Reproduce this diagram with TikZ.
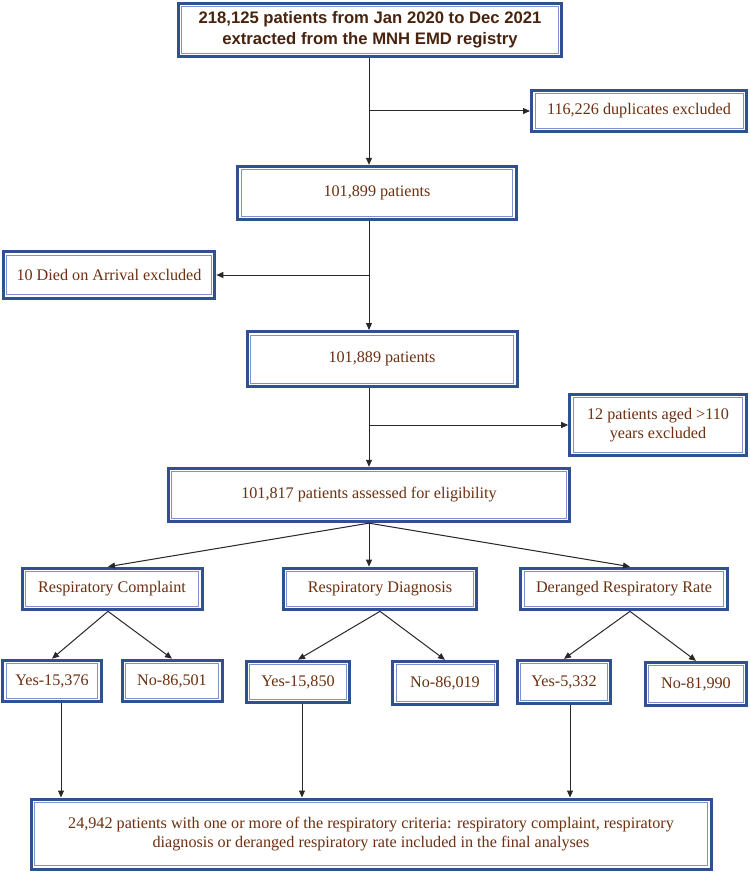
\documentclass[tikz,border=0pt]{standalone}
\usepackage{fontspec}
\setmainfont{Liberation Serif}
\newfontfamily\headfont{Liberation Sans}
\usepackage{tikz}
\usetikzlibrary{arrows.meta,positioning}
\definecolor{boxblue}{RGB}{47,80,145}
\definecolor{lineblue}{RGB}{125,145,205}
\definecolor{txtbrown}{RGB}{108,48,16}
\definecolor{headbrown}{RGB}{72,36,14}
\definecolor{arrgray}{RGB}{40,40,40}

\begin{document}
\begin{tikzpicture}[x=0.6pt, y=-0.6pt,
  box/.style={draw=boxblue, line width=1.8pt, fill=white, text=txtbrown,
              align=center, inner sep=2pt, font=\fontsize{9.7}{11.6}\selectfont,
              path picture={\draw[lineblue, line width=0.55pt]
                ([shift={(2.1pt,-2.1pt)}]path picture bounding box.north west) rectangle
                ([shift={(-2.1pt,2.1pt)}]path picture bounding box.south east);}},
  arr/.style={-{Triangle[length=4.2pt,width=3.6pt]}, line width=0.6pt, arrgray},
]
\useasboundingbox (0,0) rectangle (750,872);
\coordinate (spine) at (369,0);
% main column
\node[box, minimum width=230pt, minimum height=32pt, text=headbrown,
      font=\headfont\bfseries\fontsize{10}{12.4}\selectfont]
      (top)  at (370,30)  {218,125 patients from Jan 2020 to Dec 2021\\extracted from the MNH EMD registry};
\node[box, minimum width=129pt, minimum height=25pt] (dup)  at (639,111) {116,226 duplicates excluded};
\node[box, minimum width=167pt, minimum height=32pt] (n1)   at (377,193) {101,899 patients};
\node[box, minimum width=127pt, minimum height=28pt] (died) at (109,275) {10 Died on Arrival excluded};
\node[box, minimum width=162pt, minimum height=33pt] (n2)   at (382,359) {101,889 patients};
\node[box, minimum width=106pt, minimum height=37pt] (aged) at (658,425) {12 patients aged >110\\years excluded};
\node[box, minimum width=241pt, minimum height=32pt] (n3)   at (369,495) {101,817 patients assessed for eligibility};
% criteria
\node[box, minimum width=108pt, minimum height=25pt] (rc)   at (112,589) {Respiratory Complaint};
\node[box, minimum width=116pt, minimum height=25pt] (rd)   at (380,589) {Respiratory Diagnosis};
\node[box, minimum width=124pt, minimum height=25pt] (drr)  at (624,589) {Deranged Respiratory Rate};
\node[box, minimum width=59pt, minimum height=25pt]  (yes1) at (52,681)  {Yes-15,376};
\node[box, minimum width=60pt, minimum height=25pt]  (no1)  at (172,681) {No-86,501};
\node[box, minimum width=62pt, minimum height=25pt]  (yes2) at (298,682) {Yes-15,850};
\node[box, minimum width=63pt, minimum height=26pt]  (no2)  at (445,683) {No-86,019};
\node[box, minimum width=56pt, minimum height=26pt]  (yes3) at (564,682) {Yes-5,332};
\node[box, minimum width=61pt, minimum height=26pt]  (no3)  at (696,684) {No-81,990};
\node[box, minimum width=408pt, minimum height=42pt] (final) at (371,834)
      {24,942 patients with one or more of the respiratory criteria: respiratory complaint, respiratory\\diagnosis or deranged respiratory rate included in the final analyses};
% arrows
\draw[arr] (top.south -| spine) -- (n1.north -| spine);
\draw[arr] (dup.west -| spine)  -- (dup.west);
\draw[arr] (n1.south -| spine)  -- (n2.north -| spine);
\draw[arr] (died.east -| spine) -- (died.east);
\draw[arr] (n2.south -| spine)  -- (n3.north -| spine);
\draw[arr] (aged.west -| spine) -- (aged.west);
\draw[arr] (n3.south) -- ([xshift=-2.4pt]rc.north);
\draw[arr] (n3.south) -- (rd.north -| spine);
\draw[arr] (n3.south) -- ([xshift=3.6pt]drr.north);
\draw[arr] ([xshift=-2.4pt]rc.south) -- (yes1.north);
\draw[arr] ([xshift=-2.4pt]rc.south) -- (no1.north);
\draw[arr] (rd.south)  -- (yes2.north);
\draw[arr] (rd.south)  -- (no2.north);
\draw[arr] ([xshift=3.6pt]drr.south) -- (yes3.north);
\draw[arr] ([xshift=3.6pt]drr.south) -- (no3.north);
\draw[arr] ([xshift=5.4pt]yes1.south) -- ([xshift=5.4pt]yes1.south |- final.north);
\draw[arr] ([xshift=2.4pt]yes2.south) -- ([xshift=2.4pt]yes2.south |- final.north);
\draw[arr] ([xshift=3.6pt]yes3.south) -- ([xshift=3.6pt]yes3.south |- final.north);
\end{tikzpicture}
\end{document}
